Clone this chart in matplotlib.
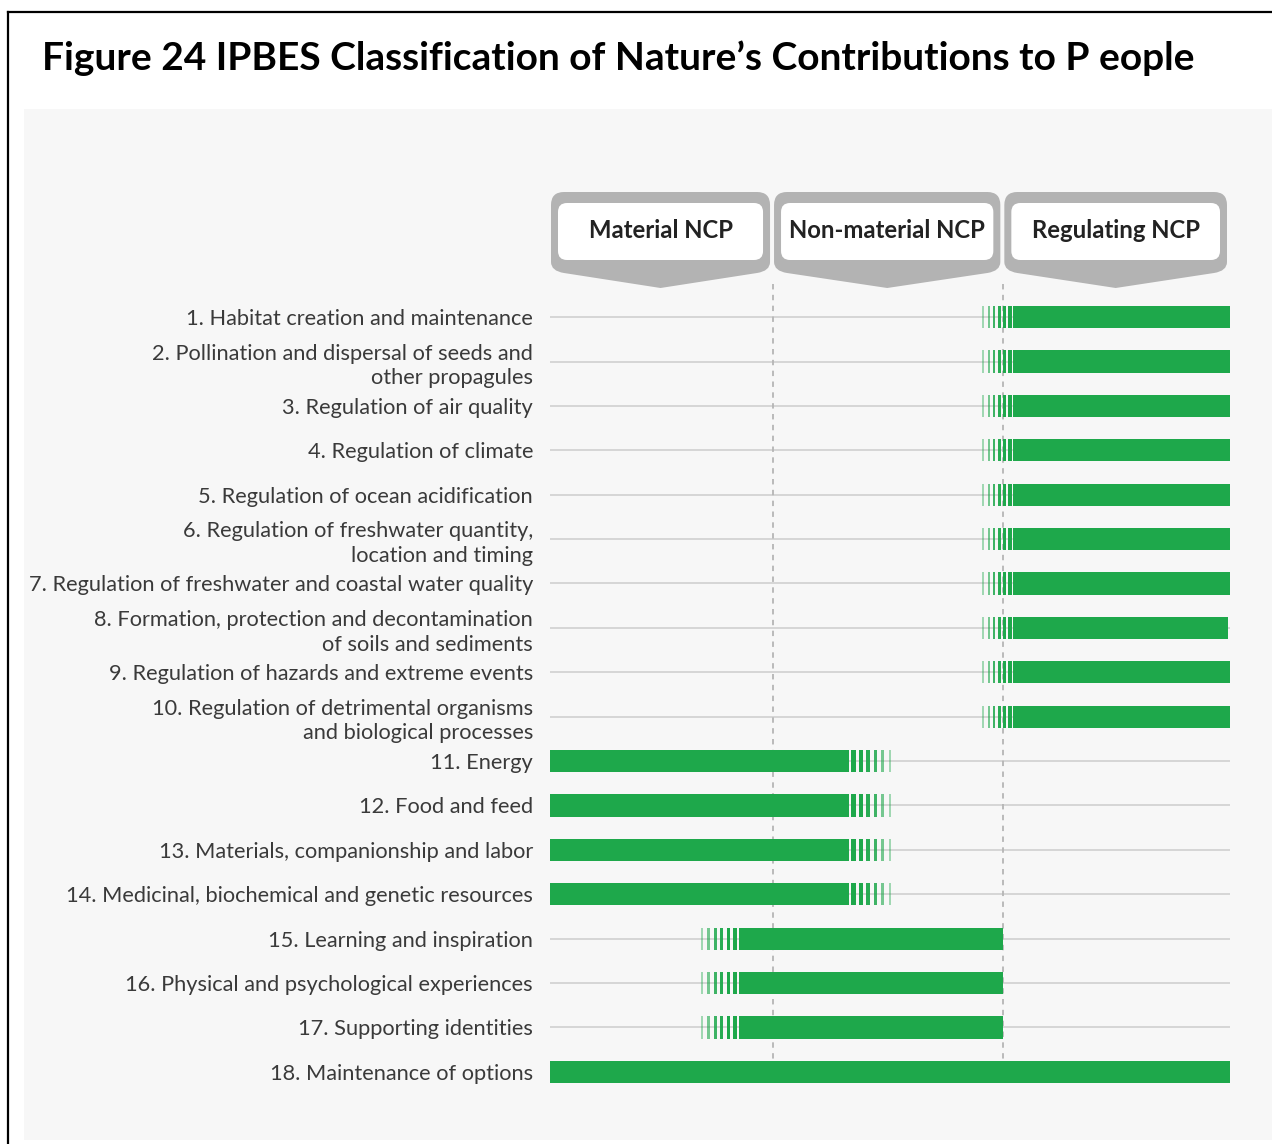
import numpy as np
import matplotlib
matplotlib.use("Agg")
import matplotlib.pyplot as plt
from matplotlib.patches import Rectangle, FancyBboxPatch, PathPatch
from matplotlib.path import Path
from matplotlib.lines import Line2D

plt.rcParams['font.family'] = ['Lato', 'DejaVu Sans']

# ---- data -------------------------------------------------------------
title = "Figure 24 IPBES Classification of Nature\u2019s Contributions to P eople"

categories = ["Material NCP", "Non-material NCP", "Regulating NCP"]
col_edges = [0.0, 0.984, 2.0, 3.0]

labels = [
    "1. Habitat creation and maintenance",
    "2. Pollination and dispersal of seeds and\nother propagules",
    "3. Regulation of air quality",
    "4. Regulation of climate",
    "5. Regulation of ocean acidification",
    "6. Regulation of freshwater quantity,\nlocation and timing",
    "7. Regulation of freshwater and coastal water quality",
    "8. Formation, protection and decontamination\nof soils and sediments",
    "9. Regulation of hazards and extreme events",
    "10. Regulation of detrimental organisms\nand biological processes",
    "11. Energy",
    "12. Food and feed",
    "13. Materials, companionship and labor",
    "14. Medicinal, biochemical and genetic resources",
    "15. Learning and inspiration",
    "16. Physical and psychological experiences",
    "17. Supporting identities",
    "18. Maintenance of options",
]

# solid part of each bar
solid_start = [2.044, 2.044, 2.044, 2.044, 2.044, 2.044, 2.044, 2.044, 2.044, 2.044,
               0.0, 0.0, 0.0, 0.0,
               0.835, 0.835, 0.835,
               0.0]
solid_end = [3.0, 3.0, 3.0, 3.0, 3.0, 3.0, 3.0, 2.99, 3.0, 3.0,
             1.319, 1.319, 1.319, 1.319,
             2.0, 2.0, 2.0,
             3.0]
# striped fade-out beyond the solid part
fade_len = [0.133, 0.133, 0.133, 0.133, 0.133, 0.133, 0.133, 0.133, 0.133, 0.133,
            0.18, 0.18, 0.18, 0.18,
            0.166, 0.166, 0.166,
            0.0]
fade_side = ['left'] * 10 + ['right'] * 4 + ['left'] * 3 + [None]

GREEN = '#1ea84b'
W, H = 1272, 1144

fig = plt.figure(figsize=(W / 100, H / 100), dpi=100)
fig.patch.set_facecolor('white')

# light panel + page frame
fig.add_artist(Rectangle((24 / W, 1 - 1140 / H), (W - 24) / W, (1140 - 109) / H,
                         transform=fig.transFigure, facecolor='#f7f7f7',
                         edgecolor='none', zorder=0))
fig.add_artist(Line2D([8 / W, 8 / W], [0, 1 - 12 / H], color='black', lw=1.6,
                      transform=fig.transFigure))
fig.add_artist(Line2D([8 / W, 1], [1 - 12 / H, 1 - 12 / H], color='black', lw=1.6,
                      transform=fig.transFigure))

fig.text(42 / W, 1 - 70 / H, title, fontsize=28, fontweight='bold',
         ha='left', va='baseline', color='black')

# ---- main chart -------------------------------------------------------
ax = fig.add_axes([550 / W, (H - 1089.6) / H, 680 / W, 808 / H])
ax.set_facecolor('none')
y = np.arange(len(labels))

ax.hlines(y, 0, 3, color='#d6d6d6', lw=1.4, zorder=1)
ax.vlines(col_edges[1:3], -0.75, 17.3, color='#b5b5b5', lw=1.3,
          linestyles=(0, (3, 3)), zorder=1)

ax.barh(y, np.array(solid_end) - np.array(solid_start), left=solid_start,
        height=0.5, color=GREEN, zorder=3)

stripe_w = [0.6, 0.55, 0.5, 0.45, 0.36, 0.27]
stripe_a = [1.0, 1.0, 0.95, 0.85, 0.6, 0.4]
for i in range(len(labels)):
    if fade_side[i] is None:
        continue
    s = fade_len[i] / 5.6
    for k in range(6):
        c = (k + 0.6) * s
        if fade_side[i] == 'left':
            xc = solid_start[i] - c
        else:
            xc = solid_end[i] + c
        w = stripe_w[k] * s
        ax.barh(y[i], w, left=xc - w / 2, height=0.5, color=GREEN,
                alpha=stripe_a[k], lw=0, zorder=3)

ax.set_xlim(0, 3)
ax.set_ylim(17.4, -0.8)
ax.set_xticks([])
ax.set_yticks(y, labels)
ax.tick_params(axis='y', length=0, pad=12.2, labelsize=15.7, labelcolor='#3a3a3a')
for t in ax.get_yticklabels():
    t.set_linespacing(1.3)
for sp in ax.spines.values():
    sp.set_visible(False)

# ---- column headers ---------------------------------------------------
axh = fig.add_axes([0, 0, 1, 1], zorder=5)
axh.set_xlim(0, W)
axh.set_ylim(H, 0)
axh.axis('off')
axh.patch.set_alpha(0)

edge_px = ax.transData.transform([(e, 0) for e in col_edges])[:, 0]


def header_shape(x0, x1, top=192, side=262, tip=288, r=13):
    xc = (x0 + x1) / 2
    verts = [(x0, top + r), (x0, top), (x0 + r, top),
             (x1 - r, top), (x1, top), (x1, top + r),
             (x1, side), (x1, side + 9), (x1 - r, side + 11),
             (xc, tip),
             (x0 + r, side + 11), (x0, side + 9), (x0, side),
             (x0, top + r)]
    codes = [Path.MOVETO, Path.CURVE3, Path.CURVE3,
             Path.LINETO, Path.CURVE3, Path.CURVE3,
             Path.LINETO, Path.CURVE3, Path.CURVE3,
             Path.LINETO,
             Path.LINETO, Path.CURVE3, Path.CURVE3,
             Path.CLOSEPOLY]
    return Path(verts, codes)


for j, name in enumerate(categories):
    x0 = edge_px[j] + 1
    x1 = edge_px[j + 1] - 3
    axh.add_patch(PathPatch(header_shape(x0, x1), facecolor='#b3b3b3',
                            edgecolor='none'))
    axh.add_patch(FancyBboxPatch((x0 + 7, 203), (x1 - x0) - 14, 57,
                                 boxstyle='round,pad=0,rounding_size=9',
                                 facecolor='white', edgecolor='none'))
    axh.text((x0 + x1) / 2, 231, name, ha='center', va='center', fontsize=17.2,
             fontweight='bold', color='#222222')

fig.savefig('out.png', dpi=100)
